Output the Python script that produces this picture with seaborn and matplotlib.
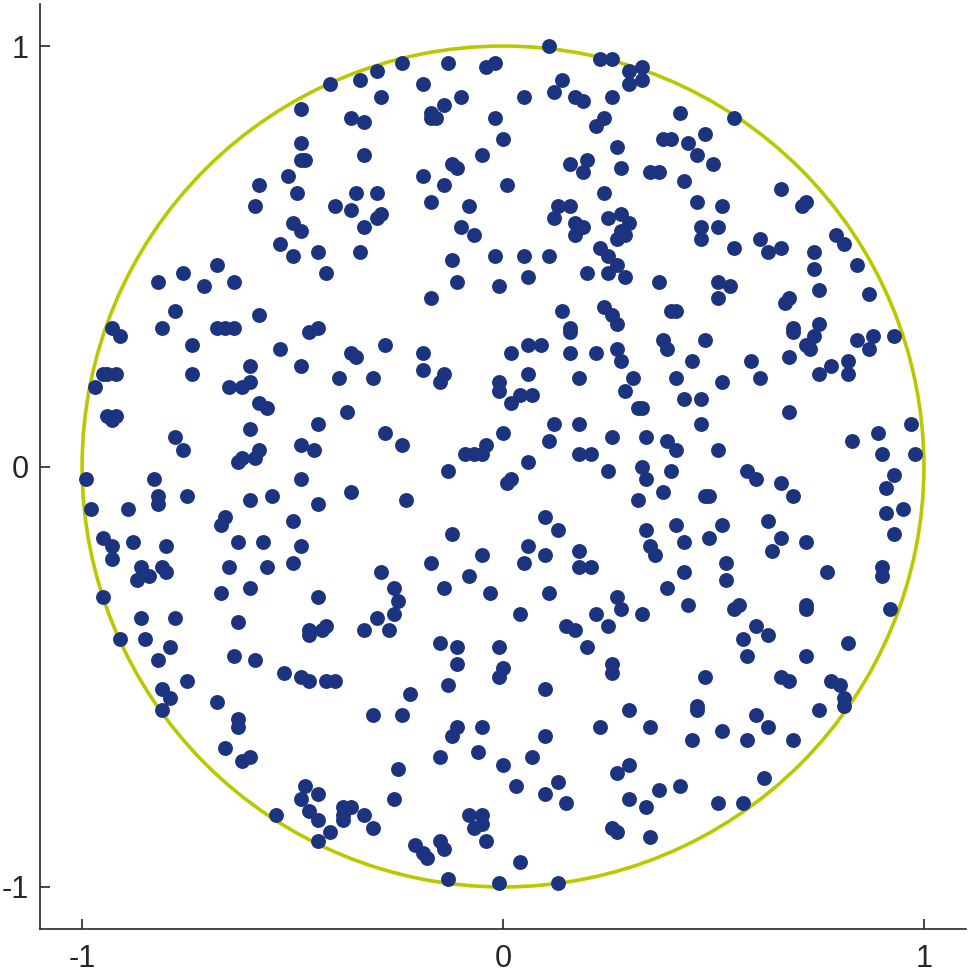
import seaborn as sns
import matplotlib.pyplot as plt
from matplotlib.patches import Circle

# points (unit disc)
x_vals = [
    0.11, -0.24, -0.13, -0.04, -0.02, 0.23, 0.26, 0.30, 0.33, 0.30, 0.33, -0.30, -0.34, -0.29, -0.19, -0.10,
    0.05, 0.12, 0.14, 0.17, 0.19, 0.26, -0.14, -0.17, -0.16, -0.17, -0.02, -0.33, 0.24, 0.22, 0.00, 0.27,
    -0.33, -0.05, -0.12, -0.11, 0.16, 0.20, 0.19, 0.28, 0.35, -0.19, -0.14, 0.01, -0.35, -0.30, 0.24, -0.17,
    -0.08, 0.13, 0.16, -0.29, -0.30, -0.33, -0.10, -0.07, 0.12, 0.17, 0.19, 0.17, 0.25, 0.28, 0.30, 0.28,
    0.27, 0.29, 0.23, 0.25, 0.27, -0.34, -0.12, -0.02, 0.05, 0.11, 0.20, 0.25, 0.29, -0.11, -0.01, 0.06,
    -0.17, 0.14, 0.24, 0.26, 0.27, 0.16, -0.41, -0.48, -0.36, -0.48, -0.48, -0.47, -0.58, -0.51, -0.49, -0.59,
    -0.40, -0.36, -0.50, -0.48, -0.53, -0.50, -0.44, -0.68, -0.76, -0.82, -0.71, -0.64, -0.42, -0.78, -0.58, -0.93,
    -0.81, -0.68, -0.66, -0.64, -0.46, -0.44, 0.42, 0.55, 0.38, 0.40, 0.44, 0.48, 0.46, 0.50, 0.37, 0.43,
    0.66, 0.71, 0.72, 0.46, 0.52, 0.47, 0.51, 0.47, 0.55, 0.61, 0.63, 0.66, 0.74, 0.79, 0.81, 0.84,
    0.74, 0.75, 0.87, 0.37, 0.51, 0.54, 0.51, 0.67, 0.68, 0.40, 0.41, 0.75, 0.69, -0.91, -0.74, -0.53,
    -0.60, -0.48, -0.36, -0.35, -0.95, -0.94, -0.92, -0.97, -0.74, -0.65, -0.62, -0.60, -0.58, -0.56, -0.39, -0.94,
    -0.92, -0.93, -0.60, -0.44, -0.37, -0.78, -0.76, -0.48, -0.45, -0.63, -0.62, -0.59, -0.58, -0.99, -0.83, -0.48,
    -0.36, -0.82, -0.82, -0.75, -0.98, -0.89, -0.60, -0.55, -0.44, -0.66, -0.67, -0.50, -0.95, -0.93, -0.93, -0.88,
    -0.80, -0.63, -0.57, -0.48, -0.86, -0.87, -0.84, -0.81, -0.80, -0.65, -0.56, -0.50, -0.95, -0.67, -0.60, -0.44,
    -0.28, -0.19, -0.31, -0.19, -0.14, -0.15, 0.02, 0.06, 0.09, 0.16, 0.16, 0.22, 0.27, 0.28, 0.06, -0.01,
    -0.01, 0.04, 0.07, 0.02, 0.18, 0.31, 0.29, 0.32, 0.33, 0.12, 0.18, 0.11, 0.26, 0.34, -0.28, -0.24,
    0.00, -0.09, -0.07, -0.05, -0.04, 0.18, 0.21, 0.06, 0.25, 0.33, 0.34, -0.13, 0.01, 0.02, -0.23, 0.32,
    0.10, 0.13, 0.34, -0.12, 0.06, 0.10, 0.18, 0.35, -0.05, -0.17, 0.05, 0.18, 0.21, -0.29, -0.26, -0.25,
    -0.14, -0.08, -0.03, 0.11, 0.27, -0.26, 0.04, 0.22, 0.28, 0.33, 0.38, 0.39, 0.48, 0.69, 0.74, 0.72,
    0.73, 0.84, 0.88, 0.87, 0.93, 0.45, 0.59, 0.68, 0.41, 0.52, 0.61, 0.75, 0.78, 0.82, 0.82, 0.43,
    0.47, 0.68, 0.47, 0.97, 0.39, 0.41, 0.51, 0.83, 0.89, 0.90, 0.98, 0.40, 0.58, 0.60, 0.66, 0.93,
    0.38, 0.48, 0.49, 0.69, 0.91, 0.91, 0.95, 0.41, 0.52, 0.49, 0.63, 0.93, 0.36, 0.43, 0.66, 0.64,
    0.72, 0.53, 0.43, 0.53, 0.77, 0.90, 0.90, 0.39, 0.44, 0.55, 0.56, 0.72, 0.72, 0.92, -0.86, -0.78,
    -0.63, -0.91, -0.85, -0.79, -0.82, -0.64, -0.59, -0.46, -0.46, -0.43, -0.42, -0.33, -0.75, -0.52, -0.48, -0.46,
    -0.42, -0.40, -0.81, -0.79, -0.81, -0.68, -0.63, -0.63, -0.66, -0.62, -0.60, -0.47, -0.48, -0.44, -0.46, -0.44,
    -0.38, -0.36, -0.38, -0.38, -0.33, -0.41, -0.54, -0.44, -0.30, -0.27, 0.25, 0.15, 0.17, 0.20, -0.15, -0.11,
    -0.11, -0.01, 0.00, -0.01, -0.13, -0.22, 0.10, 0.26, 0.26, -0.31, -0.24, -0.11, -0.12, -0.05, 0.10, -0.15,
    -0.06, 0.07, 0.30, 0.23, 0.35, -0.25, 0.00, 0.30, 0.27, 0.03, 0.13, 0.10, 0.15, -0.26, 0.30, 0.34,
    -0.31, -0.08, -0.05, -0.05, -0.07, -0.04, 0.26, 0.27, 0.35, -0.21, -0.19, -0.18, -0.15, -0.14, 0.04, -0.13,
    -0.01, 0.13, 0.60, 0.57, 0.63, 0.82, 0.58, 0.72, 0.48, 0.66, 0.68, 0.78, 0.80, 0.81, 0.81, 0.46,
    0.46, 0.60, 0.63, 0.75, 0.45, 0.52, 0.58, 0.69, 0.62, 0.42, 0.37, 0.51, 0.57,
]
y_vals = [
    1.00, 0.96, 0.96, 0.95, 0.96, 0.97, 0.97, 0.94, 0.95, 0.91, 0.92, 0.94, 0.92, 0.88, 0.91, 0.88,
    0.88, 0.89, 0.92, 0.88, 0.87, 0.88, 0.86, 0.84, 0.83, 0.83, 0.83, 0.82, 0.83, 0.81, 0.78, 0.76,
    0.74, 0.74, 0.72, 0.71, 0.72, 0.73, 0.70, 0.71, 0.70, 0.69, 0.67, 0.67, 0.65, 0.65, 0.65, 0.63,
    0.62, 0.62, 0.62, 0.60, 0.59, 0.57, 0.57, 0.55, 0.59, 0.58, 0.57, 0.55, 0.59, 0.60, 0.58, 0.56,
    0.54, 0.55, 0.52, 0.50, 0.48, 0.51, 0.49, 0.50, 0.50, 0.50, 0.46, 0.46, 0.45, 0.44, 0.43, 0.45,
    0.40, 0.37, 0.38, 0.36, 0.34, 0.33, 0.91, 0.85, 0.83, 0.77, 0.73, 0.73, 0.67, 0.69, 0.65, 0.62,
    0.62, 0.61, 0.58, 0.56, 0.53, 0.50, 0.51, 0.48, 0.46, 0.44, 0.43, 0.44, 0.46, 0.37, 0.36, 0.33,
    0.33, 0.33, 0.33, 0.33, 0.32, 0.33, 0.84, 0.83, 0.78, 0.78, 0.77, 0.79, 0.74, 0.72, 0.70, 0.68,
    0.66, 0.62, 0.63, 0.63, 0.62, 0.57, 0.57, 0.54, 0.52, 0.54, 0.51, 0.52, 0.51, 0.55, 0.53, 0.48,
    0.47, 0.42, 0.41, 0.44, 0.44, 0.43, 0.40, 0.39, 0.40, 0.37, 0.37, 0.34, 0.33, 0.31, 0.29, 0.28,
    0.24, 0.24, 0.27, 0.26, 0.22, 0.22, 0.22, 0.19, 0.22, 0.19, 0.19, 0.20, 0.15, 0.14, 0.21, 0.12,
    0.12, 0.11, 0.09, 0.10, 0.13, 0.07, 0.04, 0.05, 0.04, 0.01, 0.02, 0.02, 0.04, -0.03, -0.03, -0.03,
    -0.06, -0.07, -0.09, -0.07, -0.10, -0.10, -0.08, -0.07, -0.09, -0.12, -0.14, -0.13, -0.17, -0.19, -0.22, -0.18,
    -0.19, -0.18, -0.18, -0.19, -0.24, -0.27, -0.26, -0.24, -0.25, -0.24, -0.24, -0.23, -0.31, -0.30, -0.29, -0.31,
    0.29, 0.27, 0.21, 0.23, 0.22, 0.20, 0.27, 0.29, 0.29, 0.32, 0.27, 0.27, 0.28, 0.25, 0.22, 0.20,
    0.18, 0.17, 0.17, 0.15, 0.21, 0.21, 0.18, 0.14, 0.14, 0.10, 0.10, 0.06, 0.07, 0.07, 0.08, 0.05,
    0.08, 0.03, 0.03, 0.03, 0.05, 0.03, 0.03, 0.01, -0.01, 0.00, -0.03, -0.01, -0.04, -0.03, -0.08, -0.08,
    -0.12, -0.15, -0.15, -0.16, -0.19, -0.21, -0.20, -0.19, -0.21, -0.23, -0.23, -0.24, -0.24, -0.25, -0.29, -0.32,
    -0.29, -0.26, -0.30, -0.30, -0.31, -0.35, -0.35, -0.35, -0.34, -0.35, 0.30, 0.28, 0.30, 0.32, 0.31, 0.29,
    0.28, 0.30, 0.31, 0.28, 0.31, 0.25, 0.25, 0.26, 0.21, 0.20, 0.21, 0.22, 0.24, 0.25, 0.22, 0.16,
    0.16, 0.13, 0.10, 0.10, 0.06, 0.04, 0.04, 0.06, 0.08, 0.03, 0.03, -0.01, -0.01, -0.03, -0.04, -0.02,
    -0.06, -0.07, -0.07, -0.07, -0.05, -0.11, -0.10, -0.14, -0.14, -0.17, -0.13, -0.16, -0.21, -0.18, -0.17, -0.20,
    -0.18, -0.23, -0.25, -0.27, -0.25, -0.24, -0.26, -0.29, -0.33, -0.34, -0.33, -0.33, -0.34, -0.34, -0.36, -0.36,
    -0.37, -0.41, -0.41, -0.43, -0.46, -0.45, -0.46, -0.39, -0.40, -0.39, -0.38, -0.39, -0.51, -0.49, -0.50, -0.51,
    -0.51, -0.51, -0.53, -0.55, -0.58, -0.56, -0.60, -0.62, -0.67, -0.70, -0.69, -0.76, -0.79, -0.78, -0.82, -0.84,
    -0.81, -0.81, -0.83, -0.84, -0.83, -0.87, -0.83, -0.89, -0.36, -0.39, -0.38, -0.38, -0.39, -0.43, -0.42, -0.43,
    -0.47, -0.43, -0.48, -0.50, -0.52, -0.54, -0.53, -0.47, -0.49, -0.59, -0.59, -0.62, -0.64, -0.62, -0.64, -0.69,
    -0.68, -0.69, -0.58, -0.62, -0.62, -0.72, -0.71, -0.71, -0.73, -0.76, -0.75, -0.78, -0.80, -0.79, -0.79, -0.81,
    -0.86, -0.83, -0.83, -0.85, -0.86, -0.89, -0.86, -0.87, -0.88, -0.90, -0.92, -0.93, -0.89, -0.91, -0.94, -0.98,
    -0.99, -0.99, -0.38, -0.41, -0.40, -0.42, -0.45, -0.45, -0.50, -0.50, -0.51, -0.51, -0.52, -0.55, -0.57, -0.57,
    -0.58, -0.59, -0.62, -0.58, -0.65, -0.63, -0.65, -0.65, -0.74, -0.76, -0.77, -0.80, -0.80,
]
tick_vals = [-1, 0, 1]
tick_labels = ['-1', '0', '1']

sns.set_style('white')
plt.rcParams['font.family'] = ['Liberation Sans', 'DejaVu Sans']

fig = plt.figure(figsize=(9.7, 9.76), dpi=100)
ax = fig.add_axes([40 / 970, 47 / 976, 926 / 970, 925 / 976])

ax.add_patch(Circle((0, 0), 1, fill=False, edgecolor='#bac800', linewidth=2.6, zorder=1))
sns.scatterplot(x=x_vals, y=y_vals, color='#1c3380', s=115, linewidth=0, ax=ax, zorder=2)

ax.set_xlim(-1.1, 1.1)
ax.set_ylim(-1.1, 1.1)
ax.set_xticks(tick_vals)
ax.set_xticklabels(tick_labels)
ax.set_yticks(tick_vals)
ax.set_yticklabels(tick_labels)
ax.tick_params(bottom=True, left=True, direction='in', length=7.5, width=1.2,
               colors='#262626', labelsize=22)
ax.tick_params(axis='x', pad=11)
ax.tick_params(axis='y', pad=8)
sns.despine(ax=ax)
for side in ['left', 'bottom']:
    ax.spines[side].set_color('#262626')
    ax.spines[side].set_linewidth(1.2)

fig.savefig('out.png', dpi=100)
